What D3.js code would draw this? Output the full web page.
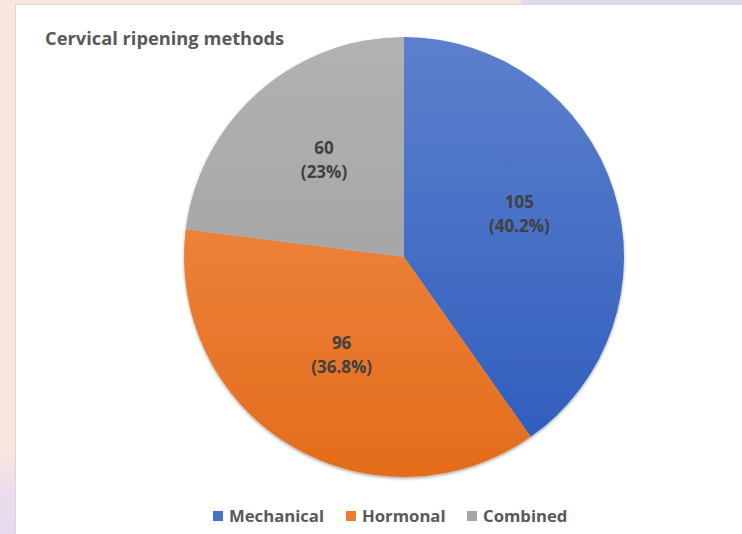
<!DOCTYPE html>
<html><head><meta charset="utf-8">
<script src="https://cdn.jsdelivr.net/npm/d3@7"></script>
<style>body{margin:0;padding:0;background:#fff}svg{display:block}</style>
</head><body>
<svg id="c" width="742" height="534"></svg>
<script>
const title = "Cervical ripening methods";
const categories = ["Mechanical", "Hormonal", "Combined"];
const values = [105, 96, 60];
const percentLabels = ["40.2%", "36.8%", "23%"];
const colorsTop = ["#5c80cd", "#f3914f", "#b2b2b2"];
const colorsBottom = ["#2d5bbb", "#e46c1c", "#9b9b9b"];
const legendColors = ["#4472c4", "#ed7d31", "#a5a5a5"];

const svg = d3.select("#c");
const W = 742, H = 534;
const defs = svg.append("defs");
const FONT = "'Open Sans', 'Noto Sans', sans-serif";

// page background
svg.append("rect").attr("width", W).attr("height", H).attr("fill", "#fbe5df");
const bgG = defs.append("linearGradient").attr("id","bgl").attr("x1",0).attr("y1",0).attr("x2",0).attr("y2",1);
bgG.append("stop").attr("offset","0%").attr("stop-color","#fbe5df");
bgG.append("stop").attr("offset","84%").attr("stop-color","#fbe5df");
bgG.append("stop").attr("offset","93%").attr("stop-color","#e9dcee");
bgG.append("stop").attr("offset","100%").attr("stop-color","#e6dbef");
svg.append("rect").attr("x",0).attr("y",0).attr("width",16).attr("height",H).attr("fill","url(#bgl)");
svg.append("rect").attr("x",521).attr("y",0).attr("width",W-521).attr("height",4).attr("fill","#dedaea");
// white panel
svg.append("rect").attr("x",16).attr("y",4).attr("width",W-16).attr("height",H-4).attr("fill","#ffffff");
svg.append("line").attr("x1",16).attr("x2",W).attr("y1",4.5).attr("y2",4.5).attr("stroke","#d9d9d9").attr("stroke-width",1);
svg.append("line").attr("x1",15.5).attr("x2",15.5).attr("y1",4).attr("y2",H).attr("stroke","#e6d3d0").attr("stroke-width",1);

// title
svg.append("text").attr("x",45).attr("y",45).text(title)
  .attr("font-family",FONT).attr("font-weight","bold")
  .attr("font-size",18.3).attr("fill","#595959");

// pie
const cx = 404, cy = 257, R = 220;
const pie = d3.pie().sort(null).value(d => d.v);
const data = categories.map((c,i) => ({c, v: values[i], p: percentLabels[i], i}));
const arcs = pie(data);
const arc = d3.arc().innerRadius(0).outerRadius(R);

categories.forEach((c,i) => {
  const g = defs.append("linearGradient").attr("id","g"+i)
    .attr("gradientUnits","userSpaceOnUse").attr("x1",0).attr("y1",-R).attr("x2",0).attr("y2",R);
  g.append("stop").attr("offset","0%").attr("stop-color",colorsTop[i]);
  g.append("stop").attr("offset","100%").attr("stop-color",colorsBottom[i]);
});
const filt = defs.append("filter").attr("id","sh").attr("x","-10%").attr("y","-10%").attr("width","120%").attr("height","120%");
filt.append("feDropShadow").attr("dx",0).attr("dy",1.5).attr("stdDeviation",1.5).attr("flood-color","#000").attr("flood-opacity",0.35);

const pg = svg.append("g").attr("transform",`translate(${cx},${cy})`);
pg.append("g").attr("filter","url(#sh)").selectAll("path").data(arcs).join("path")
  .attr("d", arc)
  .attr("fill", d => `url(#g${d.data.i})`);

const labelArc = d3.arc().innerRadius(R*0.55).outerRadius(R*0.55);
const lab = pg.selectAll("g.lab").data(arcs).join("g").attr("class","lab")
  .attr("transform", d => { const [x,y] = labelArc.centroid(d); return `translate(${x},${y})`; });
lab.append("text").attr("text-anchor","middle").attr("y",-12).text(d => d.data.v)
  .attr("font-family",FONT).attr("font-weight","bold")
  .attr("font-size",17).attr("fill","#404040");
lab.append("text").attr("text-anchor","middle").attr("y",12).text(d => `(${d.data.p})`)
  .attr("font-family",FONT).attr("font-weight","bold")
  .attr("font-size",17).attr("fill","#404040");

// legend
const legX = [213, 346, 467];
const lg = svg.append("g");
categories.forEach((c,i) => {
  lg.append("rect").attr("x",legX[i]).attr("y",511).attr("width",10).attr("height",10).attr("fill",legendColors[i]);
  lg.append("text").attr("x",legX[i]+16).attr("y",522).text(c)
    .attr("font-family",FONT).attr("font-weight","bold")
    .attr("font-size",16.7).attr("fill","#595959");
});
</script>
</body></html>
